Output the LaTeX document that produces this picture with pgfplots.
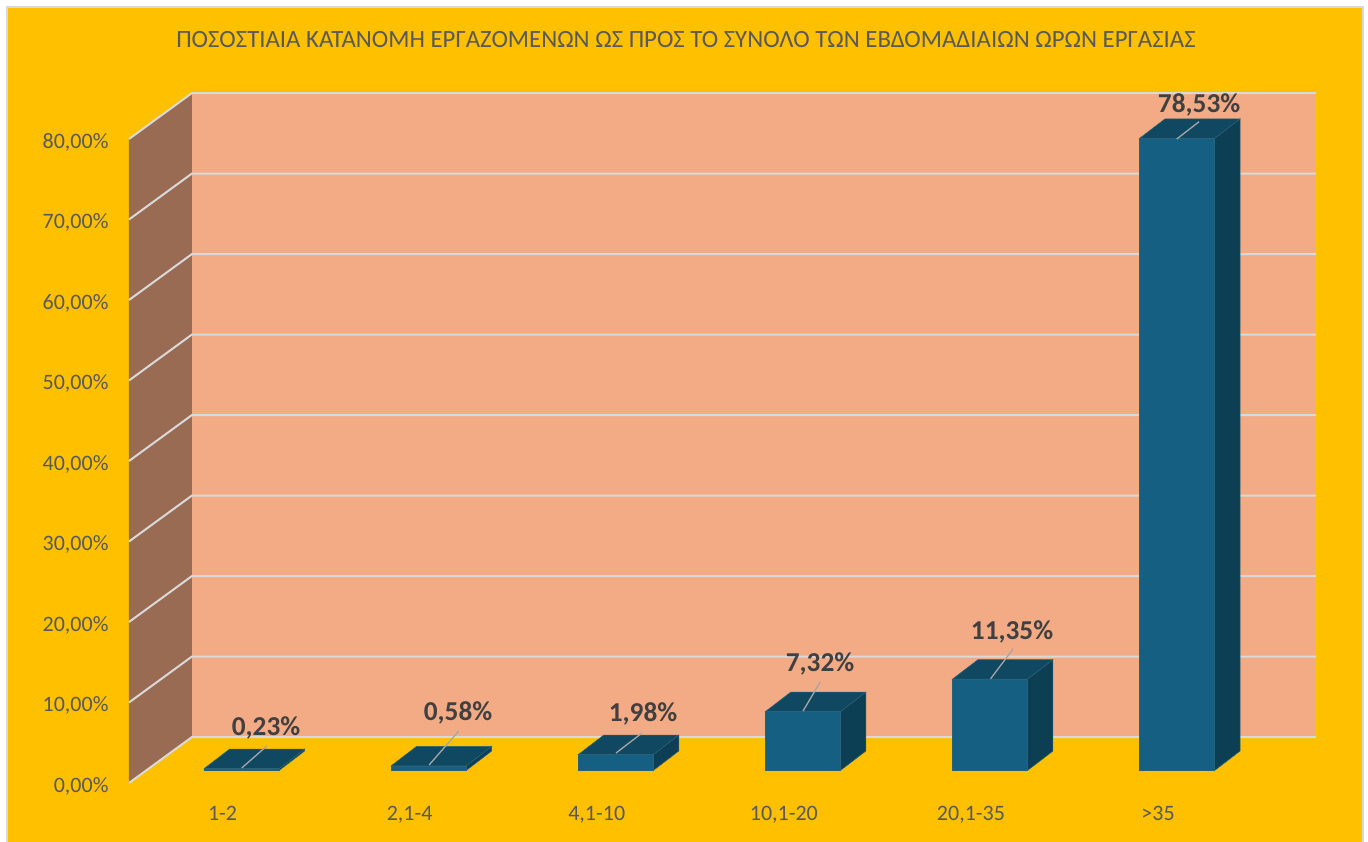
\documentclass[border=0pt]{standalone}
\usepackage{fontspec}
\setmainfont{Carlito}
\usepackage{pgfplots}
\pgfplotsset{compat=1.18}
\definecolor{bgY}{HTML}{FFC000}
\definecolor{frameC}{HTML}{D9D9D9}
\definecolor{wallB}{HTML}{F3AB85}
\definecolor{wallL}{HTML}{9A6B53}
\definecolor{gridC}{HTML}{D9D9D9}
\definecolor{barF}{HTML}{156082}
\definecolor{barT}{HTML}{104862}
\definecolor{barS}{HTML}{0D3F54}
\definecolor{barE}{HTML}{2A6278}
\definecolor{txtC}{HTML}{595959}
\definecolor{lblC}{HTML}{404040}
\definecolor{leadC}{HTML}{A6A6A6}
\newcommand\barfaces[2]{%
  \pgfmathsetmacro\xa{#1-0.2004}%
  \pgfmathsetmacro\xb{#1+0.2004}%
  \pgfmathsetmacro\xc{#1+0.3367}%
  \pgfmathsetmacro\xd{#1-0.0641}%
  \pgfmathsetmacro\yt{#2+2.42}%
  \edef\tmp{\noexpand\addplot[fill=barS,draw=barE,line width=0.5pt,xshift=19pt,yshift=12.5pt]
    coordinates {(\xb,0) (\xc,2.42) (\xc,\yt) (\xb,#2)} -- cycle;
    \noexpand\addplot[fill=barT,draw=barE,line width=0.5pt,xshift=19pt,yshift=12.5pt]
    coordinates {(\xa,#2) (\xb,#2) (\xc,\yt) (\xd,\yt)} -- cycle;}%
  \tmp}
\begin{document}
\begin{tikzpicture}
\useasboundingbox (0,0) rectangle (1368pt,841pt);
\fill[white] (0,0) rectangle (1368pt,841pt);
\fill[bgY] (7pt,-5pt) rectangle (1363pt,834pt);
\draw[frameC,line width=1.5pt] (7pt,-5pt) -- (7pt,834pt) -- (1363pt,834pt) -- (1363pt,-5pt);
\begin{axis}[
  at={(129pt,58pt)},anchor=south west,
  x=187.1pt,y=8.05pt,
  xmin=-0.5,xmax=5.8445,ymin=0,ymax=85.714,
  clip=false,
  axis line style={draw=none},
  major tick length=0pt,
  tick style={draw=none},
  xtick={0,1,2,3,4,5},
  xticklabels={1-2,{2,1-4},{4,1-10},{10,1-20},{20,1-35},{>35}},
  ytick={0,10,20,30,40,50,60,70,80},
  yticklabels={{0,00\%},{10,00\%},{20,00\%},{30,00\%},{40,00\%},{50,00\%},{60,00\%},{70,00\%},{80,00\%}},
  ticklabel style={font=\fontsize{22}{24}\selectfont,text=txtC},
  yticklabel style={anchor=east,xshift=-17pt,yshift=-3pt},
  xticklabel style={anchor=center,yshift=-32pt,text height=15pt,text depth=4pt},
  title={ΠΟΣΟΣΤΙΑΙΑ ΚΑΤΑΝΟΜΗ ΕΡΓΑΖΟΜΕΝΩΝ ΩΣ ΠΡΟΣ ΤΟ ΣΥΝΟΛΟ ΤΩΝ ΕΒΔΟΜΑΔΙΑΙΩΝ ΩΡΩΝ ΕΡΓΑΣΙΑΣ},
  title style={at={(0.4692,1.0683)},anchor=center,font=\fontsize{24.8}{27}\selectfont,text=txtC},
]
% walls
\addplot[fill=wallB,draw=none] coordinates {(-0.1633,5.714) (5.8445,5.714) (5.8445,85.714) (-0.1633,85.714)} -- cycle;
\addplot[fill=wallL,draw=none] coordinates {(-0.5,0) (-0.1633,5.714) (-0.1633,85.714) (-0.5,80)} -- cycle;
% gridlines
\addplot[gridC,line width=2pt] coordinates {(-0.5,0) (-0.1633,5.714) (5.8445,5.714)};
\addplot[gridC,line width=2pt] coordinates {(-0.5,10) (-0.1633,15.714) (5.8445,15.714)};
\addplot[gridC,line width=2pt] coordinates {(-0.5,20) (-0.1633,25.714) (5.8445,25.714)};
\addplot[gridC,line width=2pt] coordinates {(-0.5,30) (-0.1633,35.714) (5.8445,35.714)};
\addplot[gridC,line width=2pt] coordinates {(-0.5,40) (-0.1633,45.714) (5.8445,45.714)};
\addplot[gridC,line width=2pt] coordinates {(-0.5,50) (-0.1633,55.714) (5.8445,55.714)};
\addplot[gridC,line width=2pt] coordinates {(-0.5,60) (-0.1633,65.714) (5.8445,65.714)};
\addplot[gridC,line width=2pt] coordinates {(-0.5,70) (-0.1633,75.714) (5.8445,75.714)};
\addplot[gridC,line width=2pt] coordinates {(-0.5,80) (-0.1633,85.714) (5.8445,85.714)};
% bars: side and top faces, then front faces
\barfaces{0}{0.23}
\barfaces{1}{0.58}
\barfaces{2}{1.98}
\barfaces{3}{7.32}
\barfaces{4}{11.35}
\barfaces{5}{78.53}
\addplot[ybar,bar shift=0pt,bar width=75pt,fill=barF,draw=barE,line width=0.5pt,xshift=19pt,yshift=12.5pt]
  coordinates {(0,0.23) (1,0.58) (2,1.98) (3,7.32) (4,11.35) (5,78.53)};
% leader lines
\addplot[leadC,line width=1.3pt] coordinates {(0.1026,1.863) (0.2362,4.596)};
\addplot[leadC,line width=1.3pt] coordinates {(1.1037,2.236) (1.2624,6.460)};
\addplot[leadC,line width=1.3pt] coordinates {(2.1031,3.727) (2.2421,6.211)};
\addplot[leadC,line width=1.3pt] coordinates {(3.1026,8.944) (3.1951,12.584)};
\addplot[leadC,line width=1.3pt] coordinates {(4.1053,12.957) (4.2250,16.646)};
\addplot[leadC,line width=1.3pt] coordinates {(5.1000,80.0) (5.2191,82.149)};
% data labels
\begingroup
\def\lbl#1#2#3{\node[font=\fontsize{27.3}{29}\selectfont\bfseries,text=lblC,inner sep=0pt] at (axis cs:#1,#2) {#3};}
\lbl{0.2325}{6.807}{0,23\%}
\lbl{1.2587}{8.67}{0,58\%}
\lbl{2.2475}{8.546}{1,98\%}
\lbl{3.1935}{14.757}{7,32\%}
\lbl{4.2197}{18.732}{11,35\%}
\lbl{5.2193}{84.27}{78,53\%}
\endgroup
\end{axis}
\end{tikzpicture}
\end{document}
